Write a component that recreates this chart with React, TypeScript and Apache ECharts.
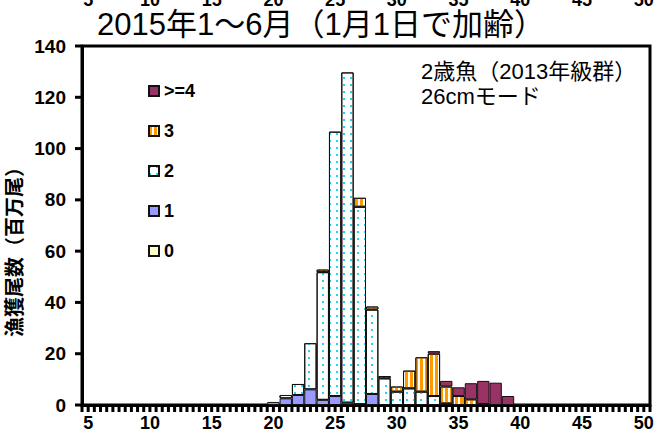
import React, { useEffect, useRef } from 'react';
import * as echarts from 'echarts';

// Length classes (cm)
const categories = [
  '5', '6', '7', '8', '9', '10', '11', '12', '13', '14', '15', '16', '17', '18', '19',
  '20', '21', '22', '23', '24', '25', '26', '27', '28', '29', '30', '31', '32', '33', '34',
  '35', '36', '37', '38', '39', '40', '41', '42', '43', '44', '45', '46', '47', '48', '49', '50',
];

// Catch in numbers (millions) by age, per length class 5..50
const age0 = [
  0, 0, 0, 0, 0, 0, 0, 0, 0, 0, 0, 0, 0, 0, 0,
  0, 0, 0, 0, 0, 0, 0, 0, 0, 0, 0, 0, 0, 0, 0,
  0, 0, 0, 0, 0, 0, 0, 0, 0, 0, 0, 0, 0, 0, 0, 0,
];
const age1 = [
  0, 0, 0, 0, 0, 0, 0, 0, 0, 0, 0, 0, 0, 0, 0,
  1.2, 2.6, 3.9, 6.1, 2.0, 3.5, 0.9, 0.3, 4.3, 0, 0, 0, 0, 0, 0,
  0, 0, 0, 0, 0, 0, 0, 0, 0, 0, 0, 0, 0, 0, 0, 0,
];
const age2 = [
  0, 0, 0, 0, 0, 0, 0, 0, 0, 0, 0, 0, 0, 0, 0,
  0, 1.3, 4.3, 18.0, 49.8, 103.1, 128.8, 77.0, 32.9, 10.4, 5.2, 6.5, 5.2, 3.5, 0.6,
  0, 0, 0, 0, 0, 0, 0, 0, 0, 0, 0, 0, 0, 0, 0, 0,
];
const age3 = [
  0, 0, 0, 0, 0, 0, 0, 0, 0, 0, 0, 0, 0, 0, 0,
  0, 0, 0, 0, 1.0, 0, 0, 3.5, 1.2, 0.9, 2.0, 6.9, 13.4, 16.5, 6.6,
  3.5, 2.2, 0.4, 0, 0, 0, 0, 0, 0, 0, 0, 0, 0, 0, 0, 0,
];
const age4plus = [
  0, 0, 0, 0, 0, 0, 0, 0, 0, 0, 0, 0, 0, 0, 0,
  0, 0, 0, 0, 0, 0, 0, 0, 0, 0, 0, 0, 0, 1.0, 2.2,
  3.4, 6.3, 9.0, 8.7, 3.5, 0.3, 0, 0, 0, 0, 0, 0, 0, 0, 0, 0,
];

const yTicks = { min: 0, max: 140, interval: 20 };
const yTickValues = [0, 20, 40, 60, 80, 100, 120, 140];
const legendOrder = ['>=4', '3', '2', '1', '0'];

const titleText = '2015年1～6月（1月1日で加齢）';
const noteLines = ['2歳魚（2013年級群）', '26cmモード'];
const yName = '漁獲尾数（百万尾）';

const FONT = '"Liberation Sans", Arial, "Noto Sans CJK JP", sans-serif';

export default function App() {
  const ref = useRef<HTMLDivElement>(null);
  useEffect(() => {
    if (!ref.current) return;
    const chart = echarts.init(ref.current, null, { renderer: 'svg' });
    const nz = (arr: number[]) => arr.map((v) => (v === 0 ? null : v));
    const labelEvery5 = (_i: number, v: string) => Number(v) % 5 === 0;
    const border = { borderColor: '#111', borderWidth: 1 };
    const mk = (name: string, data: number[], itemStyle: any) => ({
      name,
      type: 'bar',
      stack: 'total',
      barCategoryGap: 0,
      data: nz(data),
      itemStyle: { ...border, ...itemStyle },
      emphasis: { disabled: true },
    });
    const last = categories.length - 1;
    chart.setOption({
      animation: false,
      grid: {
        left: 82,
        right: 5,
        top: 46,
        bottom: 31,
        show: true,
        borderColor: '#000',
        borderWidth: 3,
        containLabel: false,
        outerBoundsMode: 'none',
      },
      legend: {
        data: legendOrder,
        orient: 'vertical',
        left: 143,
        top: 77,
        itemWidth: 10,
        itemHeight: 10,
        itemGap: 22,
        icon: 'rect',
        textStyle: { fontFamily: FONT, fontWeight: 'bold', fontSize: 18, color: '#000' },
      },
      xAxis: [
        {
          type: 'category',
          data: categories,
          position: 'bottom',
          axisLine: { show: true, lineStyle: { color: '#000', width: 3 } },
          axisTick: { show: false },
          axisLabel: {
            interval: labelEvery5,
            fontFamily: FONT,
            fontWeight: 'bold',
            fontSize: 18,
            color: '#000',
            margin: 9,
          },
        },
        {
          type: 'category',
          data: categories,
          position: 'top',
          offset: 29,
          axisLine: { show: false },
          axisTick: { show: false },
          axisLabel: {
            interval: labelEvery5,
            fontFamily: FONT,
            fontWeight: 'bold',
            fontSize: 18,
            color: '#000',
            margin: 8,
          },
        },
      ],
      yAxis: {
        type: 'value',
        min: yTicks.min,
        max: yTicks.max,
        interval: yTicks.interval,
        axisLine: { show: true, lineStyle: { color: '#000', width: 3 } },
        axisTick: { show: false },
        axisLabel: { fontFamily: FONT, fontWeight: 'bold', fontSize: 19, color: '#000', margin: 16 },
        splitLine: { show: false },
      },
      graphic: [
        {
          type: 'text',
          left: 97,
          top: 9,
          style: { text: titleText, fontFamily: FONT, fontSize: 31, fill: '#000' },
        },
        {
          type: 'text',
          left: 421,
          top: 60,
          style: { text: noteLines[0], fontFamily: FONT, fontSize: 22, fill: '#000' },
        },
        {
          type: 'text',
          left: 421,
          top: 85,
          style: { text: noteLines[1], fontFamily: FONT, fontSize: 22, fill: '#000' },
        },
        {
          type: 'text',
          x: 15,
          y: 247,
          rotation: Math.PI / 2,
          style: {
            text: yName,
            fontFamily: FONT,
            fontWeight: 'bold',
            fontSize: 20,
            fill: '#000',
            align: 'center',
            verticalAlign: 'middle',
          },
        },
      ],
      series: [
        mk('0', age0, { color: '#FFFFCC' }),
        mk('1', age1, { color: '#9999FF' }),
        mk('2', age2, {
          color: '#FFFFFF',
          decal: {
            symbol: 'rect',
            symbolSize: 1,
            color: '#22D8E8',
            dashArrayX: [[1.5, 4.5]],
            dashArrayY: [1.5, 4.5],
          },
        }),
        mk('3', age3, {
          color: '#FFFFFF',
          decal: {
            symbol: 'rect',
            symbolSize: 1,
            color: '#FF9900',
            dashArrayX: [2.5, 1.5],
            dashArrayY: [6, 0],
          },
        }),
        mk('>=4', age4plus, { color: '#993366' }),
        {
          // x-axis tick marks at every class boundary and centre
          name: 'xticks',
          type: 'custom',
          clip: false,
          silent: true,
          z: 10,
          data: categories.map((_c, i) => [i, 0]),
          renderItem: (_params: any, api: any) => {
            const i = api.value(0);
            const p = api.coord([i, 0]);
            const w = api.size([1, 0])[0];
            const style = { fill: '#000' };
            const xs = [p[0] - w / 2, p[0]];
            if (i === last) xs.push(p[0] + w / 2);
            return {
              type: 'group',
              children: xs.map((x) => ({
                type: 'rect',
                shape: { x: x - 1.5, y: p[1] + 1, width: 3, height: 6 },
                style,
              })),
            };
          },
        },
        {
          // y-axis tick marks
          name: 'yticks',
          type: 'custom',
          clip: false,
          silent: true,
          z: 10,
          data: yTickValues.map((v) => [0, v]),
          renderItem: (_params: any, api: any) => {
            const p = api.coord([0, api.value(1)]);
            const w = api.size([1, 0])[0];
            const x0 = p[0] - w / 2;
            return {
              type: 'rect',
              shape: { x: x0 - 7, y: p[1] - 1.5, width: 6, height: 3 },
              style: { fill: '#000' },
            };
          },
        },
      ],
    });
    return () => chart.dispose();
  }, []);
  return (
    <div
      ref={ref}
      style={{ position: 'fixed', left: 0, top: 0, width: 655, height: 436, background: '#fff' }}
    />
  );
}
